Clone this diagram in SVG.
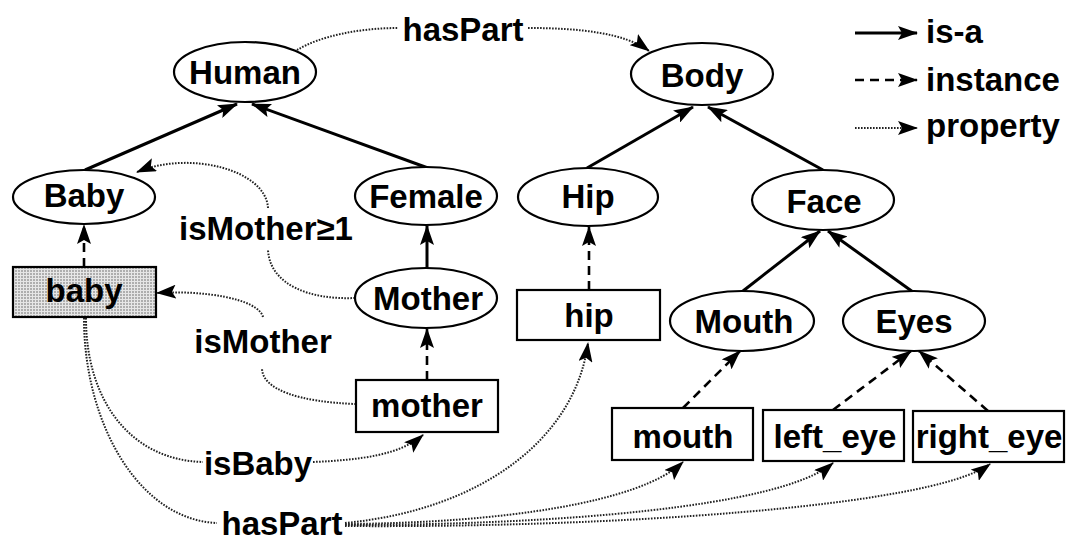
<svg xmlns="http://www.w3.org/2000/svg" width="1067" height="549" viewBox="0 0 1067 549">
  <style>
    .node ellipse { fill: #ffffff; stroke: #000; stroke-width: 2.2; }
    .node rect { fill: #ffffff; stroke: #000; stroke-width: 2.2; }
    text { font-family: "Liberation Sans", Arial, sans-serif; font-weight: bold; font-size: 33px; fill: #000; text-anchor: middle; }
    .isa { fill: none; stroke: #000; stroke-width: 3; marker-end: url(#head); }
    .inst { fill: none; stroke: #000; stroke-width: 2.6; stroke-dasharray: 9 6; marker-end: url(#head); }
    .prop { fill: none; stroke: #222; stroke-width: 2; stroke-dasharray: 1.6 1.4; }
    .prop.arr { marker-end: url(#head); }
  </style>
  <defs>
    <marker id="head" viewBox="0 0 20 14" refX="19" refY="7" markerWidth="20" markerHeight="14" markerUnits="userSpaceOnUse" orient="auto">
      <path d="M0,0 L20,7 L0,14 L4,7 Z" fill="#000"/>
    </marker>
    <pattern id="stipple" width="3" height="3" patternUnits="userSpaceOnUse">
      <rect width="3" height="3" fill="#e6e6e6"/>
      <circle cx="1" cy="1" r="0.8" fill="#666"/>
    </pattern>
  </defs>

  <rect width="1067" height="549" fill="#ffffff"/>

  <!-- connectors -->
  <g id="connectors">
    <!-- is-a -->
    <path class="isa" d="M85 170 L237 104"/>
    <path class="isa" d="M428 168 L252 104"/>
    <path class="isa" d="M587 168 L693 107"/>
    <path class="isa" d="M823 170 L708 107"/>
    <path class="isa" d="M427 268 L427 226"/>
    <path class="isa" d="M743 291 L820 231"/>
    <path class="isa" d="M913 292 L828 231"/>
    <!-- instance -->
    <path class="inst" d="M84 267 L84 225"/>
    <path class="inst" d="M427 380 L427 329"/>
    <path class="inst" d="M589 290 L589 227"/>
    <path class="inst" d="M683 408 L740 351"/>
    <path class="inst" d="M833 410 L911 351"/>
    <path class="inst" d="M988 411 L919 351"/>
    <!-- properties -->
    <path class="prop" d="M297 50 C320 36 360 28 398 28"/>
    <path class="prop arr" d="M528 28 C580 28 625 33 649 51"/>
    <path class="prop" d="M355 298 C310 300 270 285 268 250"/>
    <path class="prop arr" d="M268 208 C266 170 190 150 137 172"/>
    <path class="prop" d="M356 404 C300 402 262 390 262 368"/>
    <path class="prop arr" d="M263 317 C258 298 200 290 157 293"/>
    <path class="prop" d="M86 318 C86 400 130 460 203 462"/>
    <path class="prop arr" d="M313 462 C360 460 400 455 423 435"/>
    <path class="prop" d="M84 318 C84 425 140 520 217 523"/>
    <path class="prop arr" d="M345 523 C480 510 575 440 588 343"/>
    <path class="prop arr" d="M345 524 C500 523 640 503 683 462"/>
    <path class="prop arr" d="M345 525 C550 525 780 508 833 463"/>
    <path class="prop arr" d="M345 526 C600 528 930 508 990 464"/>
  </g>

  <!-- edge labels -->
  <g id="labels">
    <text x="463" y="41">hasPart</text>
    <text x="266" y="240">isMother≥1</text>
    <text x="263" y="353">isMother</text>
    <text x="258" y="475">isBaby</text>
    <text x="282" y="535">hasPart</text>
  </g>

  <!-- classes -->
  <g id="human" class="node"><ellipse cx="245" cy="72" rx="71" ry="30"/><text x="245" y="84">Human</text></g>
  <g id="body" class="node"><ellipse cx="702" cy="74" rx="71" ry="31"/><text x="702" y="87">Body</text></g>
  <g id="baby-class" class="node"><ellipse cx="84" cy="197" rx="71" ry="27"/><text x="84" y="207">Baby</text></g>
  <g id="female" class="node"><ellipse cx="426" cy="196" rx="71" ry="29"/><text x="426" y="208">Female</text></g>
  <g id="hip-class" class="node"><ellipse cx="588" cy="197" rx="70" ry="29"/><text x="588" y="208">Hip</text></g>
  <g id="face" class="node"><ellipse cx="823" cy="200" rx="71" ry="30"/><text x="824" y="213">Face</text></g>
  <g id="mother-class" class="node"><ellipse cx="426" cy="298" rx="71" ry="30"/><text x="428" y="310">Mother</text></g>
  <g id="mouth-class" class="node"><ellipse cx="742" cy="321" rx="72" ry="30"/><text x="744" y="333">Mouth</text></g>
  <g id="eyes" class="node"><ellipse cx="914" cy="321" rx="71" ry="30"/><text x="914" y="333">Eyes</text></g>

  <!-- instances -->
  <g id="baby" class="node"><rect x="13" y="267" width="143" height="50" style="fill:url(#stipple)"/><text x="84" y="302">baby</text></g>
  <g id="hip" class="node"><rect x="517" y="290" width="143" height="50"/><text x="589" y="327">hip</text></g>
  <g id="mother" class="node"><rect x="356" y="380" width="142" height="52"/><text x="427" y="417">mother</text></g>
  <g id="mouth" class="node"><rect x="612" y="408" width="141" height="52"/><text x="683" y="448">mouth</text></g>
  <g id="left_eye" class="node"><rect x="763" y="410" width="141" height="51"/><text x="835" y="448">left_eye</text></g>
  <g id="right_eye" class="node"><rect x="913" y="411" width="151" height="51"/><text x="989" y="448">right_eye</text></g>

  <!-- legend -->
  <g id="legend">
    <path class="isa" d="M855 33 L917 33"/>
    <path class="inst" d="M855 80 L917 80"/>
    <path class="prop arr" d="M855 128 L917 128"/>
    <text x="926" y="43" style="text-anchor:start">is-a</text>
    <text x="926" y="91" style="text-anchor:start">instance</text>
    <text x="926" y="137" style="text-anchor:start">property</text>
  </g>
</svg>
